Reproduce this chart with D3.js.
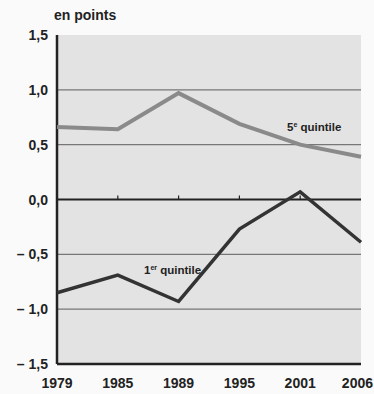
<!DOCTYPE html>
<html>
<head>
<meta charset="utf-8">
<script src="https://cdn.jsdelivr.net/npm/d3@7"></script>
<style>
  body { margin: 0; background: #fafafa; }
  text { font-family: "Liberation Sans Narrow", "Arial Narrow", "Liberation Sans", sans-serif; font-weight: bold; fill: #222; }
</style>
</head>
<body>
<div id="chart"></div>
<script>
// data
const years = ["1979", "1985", "1989", "1995", "2001", "2006"];
const quintile5 = [0.66, 0.64, 0.97, 0.69, 0.50, 0.39];
const quintile1 = [-0.85, -0.69, -0.93, -0.27, 0.07, -0.39];
const yTicks = [1.5, 1.0, 0.5, 0.0, -0.5, -1.0, -1.5];

const width = 374, height = 394;
const margin = {top: 35, right: 13, bottom: 30, left: 57};

const svg = d3.select("#chart").append("svg")
	.attr("width", width)
	.attr("height", height);

const x = d3.scalePoint()
	.domain(years)
	.range([margin.left, width - margin.right]);

const y = d3.scaleLinear()
	.domain([-1.5, 1.5])
	.range([height - margin.bottom, margin.top]);

const fmt = v => {
	const s = Math.abs(v).toFixed(1).replace(".", ",");
	return v < 0 ? "\u2013 " + s : s;
};

// plot background
svg.append("rect")
	.attr("x", margin.left)
	.attr("y", margin.top)
	.attr("width", width - margin.right - margin.left)
	.attr("height", height - margin.bottom - margin.top)
	.attr("fill", "#e3e3e3");

// grid lines
svg.append("g").selectAll("line")
	.data(yTicks.filter(d => d !== 0 && Math.abs(d) !== 1.5))
	.join("line")
	.attr("x1", margin.left)
	.attr("x2", width - margin.right)
	.attr("y1", d => y(d))
	.attr("y2", d => y(d))
	.attr("stroke", "#777")
	.attr("stroke-width", 1.2);

// zero line with small ticks
svg.append("line")
	.attr("x1", margin.left)
	.attr("x2", width - margin.right)
	.attr("y1", y(0))
	.attr("y2", y(0))
	.attr("stroke", "#222")
	.attr("stroke-width", 2);

svg.append("g").selectAll("line")
	.data(years.slice(1, -1))
	.join("line")
	.attr("x1", d => x(d))
	.attr("x2", d => x(d))
	.attr("y1", y(0))
	.attr("y2", y(0) - 4)
	.attr("stroke", "#222")
	.attr("stroke-width", 1.2);

// axes lines
svg.append("line")
	.attr("x1", margin.left)
	.attr("x2", margin.left)
	.attr("y1", margin.top)
	.attr("y2", height - margin.bottom)
	.attr("stroke", "#222")
	.attr("stroke-width", 2.5);

svg.append("line")
	.attr("x1", margin.left)
	.attr("x2", width - margin.right)
	.attr("y1", height - margin.bottom)
	.attr("y2", height - margin.bottom)
	.attr("stroke", "#222")
	.attr("stroke-width", 2.5);

// y tick labels
svg.append("g").selectAll("text")
	.data(yTicks)
	.join("text")
	.attr("x", margin.left - 9)
	.attr("y", d => y(d) + 5)
	.attr("text-anchor", "end")
	.attr("font-size", 14)
	.text(fmt);

// x tick labels (last one kept inside the window)
svg.append("g").selectAll("text")
	.data(years)
	.join("text")
	.attr("x", (d, i) => i === years.length - 1 ? width - 1 : x(d))
	.attr("y", height - 6)
	.attr("text-anchor", (d, i) => i === years.length - 1 ? "end" : "middle")
	.attr("font-size", 14)
	.text(d => d);

// unit label
svg.append("text")
	.attr("x", 54)
	.attr("y", 20)
	.attr("font-size", 14)
	.text("en points");

// lines
const line = d3.line()
	.x((d, i) => x(years[i]))
	.y(d => y(d));

svg.append("path")
	.datum(quintile5)
	.attr("d", line)
	.attr("fill", "none")
	.attr("stroke", "#8a8a8a")
	.attr("stroke-width", 4)
	.attr("stroke-linejoin", "miter");

svg.append("path")
	.datum(quintile1)
	.attr("d", line)
	.attr("fill", "none")
	.attr("stroke", "#333")
	.attr("stroke-width", 3.5)
	.attr("stroke-linejoin", "miter");

// series labels
const lab5 = svg.append("text")
	.attr("x", 287)
	.attr("y", 131)
	.attr("font-size", 11.5);
lab5.append("tspan").text("5");
lab5.append("tspan").attr("font-size", 7).attr("dy", -4).text("e");
lab5.append("tspan").attr("dy", 4).text(" quintile");

const lab1 = svg.append("text")
	.attr("x", 144)
	.attr("y", 274)
	.attr("font-size", 11.5);
lab1.append("tspan").text("1");
lab1.append("tspan").attr("font-size", 7).attr("dy", -4).text("er");
lab1.append("tspan").attr("dy", 4).text(" quintile");
</script>
</body>
</html>
